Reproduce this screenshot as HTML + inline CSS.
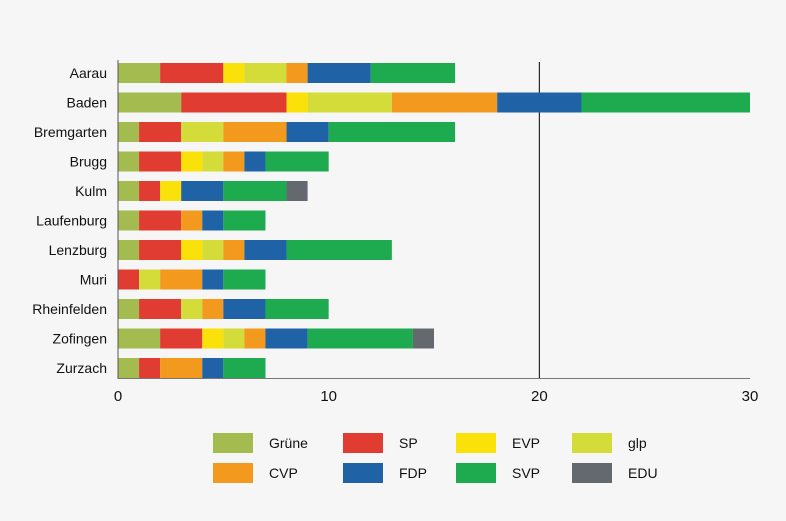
<!DOCTYPE html>
<html><head><meta charset="utf-8"><style>
body{margin:0;background:#f5f6f5;}
svg{display:block;font-family:"Liberation Sans",sans-serif;}
</style></head><body>
<svg id="c" width="786" height="521"></svg>
<script>
const categories=["Aarau","Baden","Bremgarten","Brugg","Kulm","Laufenburg","Lenzburg","Muri","Rheinfelden","Zofingen","Zurzach"];
const seriesNames=["Grüne","SP","EVP","glp","CVP","FDP","SVP","EDU"];
const gruene=[2,3,1,1,1,1,1,0,1,2,1];
const sp=[3,5,2,2,1,2,2,1,2,2,1];
const evp=[1,1,0,1,1,0,1,0,0,1,0];
const glp=[2,4,2,1,0,0,1,1,1,1,0];
const cvp=[1,5,3,1,0,1,1,2,1,1,2];
const fdp=[3,4,2,1,2,1,2,1,2,2,1];
const svp=[4,8,6,3,3,2,5,2,3,5,2];
const edu=[0,0,0,0,1,0,0,0,0,1,0];
const xTicks=[0,10,20,30];
const colors=["#a3bb4f","#e03c31","#fbe10a","#d4dc3a","#f39a1e","#1f63a6","#1eab4f","#646970"];
const series=[gruene,sp,evp,glp,cvp,fdp,svp,edu];
const svg=document.getElementById('c');const NS="http://www.w3.org/2000/svg";
function mk(t,a,p){const e=document.createElementNS(NS,t);for(const k in a)e.setAttribute(k,a[k]);(p||svg).appendChild(e);return e;}
const x=v=>118+v*(632/30);
const y=i=>63+i*29.5;
const bh=20;
xTicks.forEach(t=>{
 if(t===20){const l=mk('line',{x1:x(t),x2:x(t),y1:62,y2:378,stroke:'#000','stroke-width':1});
 
 }
 const tx=mk('text',{x:x(t),y:401,'text-anchor':'middle','font-size':15,fill:'#111'});tx.textContent=t;
 
 
});
categories.forEach((c,i)=>{
 let acc=0;
 series.forEach((s,j)=>{
  const v=s[i];if(v>0){const r=mk('rect',{x:x(acc),y:y(i),width:x(acc+v)-x(acc),height:bh,fill:colors[j]});
  
  }
  acc+=v;
 });
 const t=mk('text',{x:107,y:y(i)+15,'text-anchor':'end','font-size':14,fill:'#111'});t.textContent=c;
 
 
});
const ax=mk('line',{x1:118,x2:118,y1:60,y2:379,stroke:'#555','stroke-width':1});


const bx=mk('line',{x1:118,x2:750,y1:378.5,y2:378.5,stroke:'#777','stroke-width':1});


const lx=[213,343,456,572];
seriesNames.forEach((n,j)=>{
 const cx=lx[j%4],cy=j<4?433:463;
 const g=mk('g',{});
 
 
 mk('rect',{x:cx,y:cy,width:40,height:20,fill:colors[j]},g);
 const t=mk('text',{x:cx+56,y:cy+15,'font-size':14,fill:'#111'},g);t.textContent=n;
});
</script>
</body></html>
